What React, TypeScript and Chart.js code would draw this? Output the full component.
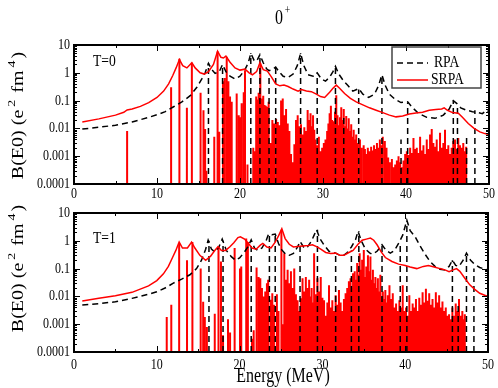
import React, { useEffect, useRef } from "react";
import { Chart, registerables } from "chart.js";
Chart.register(...registerables);

const FONT = "'Liberation Serif', 'DejaVu Serif', 'Times New Roman', serif";
const SX = 0.8; // horizontal squeeze of glyphs seen in the reference

// ---------- T=0 panel ----------
const rpaCurveE0 = [1, 3, 5, 7, 9, 10, 11, 12, 13, 14, 14.8, 15.4, 15.8, 16.2, 16.6, 17.0, 17.5, 17.9, 18.3, 18.8, 19.4, 20.0, 20.6, 21.0, 21.3, 21.7, 22.0, 22.4, 22.8, 23.2, 23.5, 23.9, 24.3, 24.7, 25.2, 25.8, 26.4, 26.9, 27.3, 27.7, 28.2, 28.8, 29.3, 29.8, 30.3, 30.8, 31.2, 31.5, 31.9, 32.5, 33.0, 33.6, 34.3, 34.8, 35.5, 36.2, 36.7, 37.1, 37.5, 38.0, 38.7, 39.4, 40.2, 40.8, 41.5, 42.5, 43.5, 44.5, 45.2, 45.7, 46.1, 46.6, 47.3, 48.0, 48.5, 49.2, 49.7, 50];
const rpaCurveB0 = [0.0095, 0.011, 0.013, 0.017, 0.025, 0.031, 0.04, 0.06, 0.09, 0.15, 0.3, 0.6, 1.0, 2.2, 1.3, 0.95, 1.1, 2.0, 1.1, 0.75, 0.6, 0.75, 1.3, 2.3, 5.0, 2.8, 2.6, 4.5, 2.3, 1.4, 1.2, 1.3, 1.6, 1.1, 0.75, 0.68, 0.9, 1.8, 5.0, 1.8, 0.85, 0.75, 1.0, 0.6, 0.5, 0.7, 1.1, 1.7, 0.9, 0.5, 0.35, 0.22, 0.27, 0.17, 0.13, 0.17, 0.35, 0.85, 0.35, 0.17, 0.11, 0.085, 0.09, 0.055, 0.035, 0.025, 0.023, 0.03, 0.05, 0.1, 0.08, 0.055, 0.045, 0.04, 0.038, 0.034, 0.045, 0.04];
const srpaCurveE0 = [1, 3, 5, 6.0, 6.4, 7.0, 8.0, 9.0, 10, 10.8, 11.4, 11.9, 12.3, 12.7, 13.1, 13.6, 14.2, 14.6, 15.2, 15.7, 16.2, 16.8, 17.3, 17.7, 18.0, 18.3, 18.8, 19.4, 20.0, 20.6, 21.1, 21.5, 22.0, 22.4, 22.8, 23.3, 23.8, 24.3, 24.8, 25.3, 25.8, 26.4, 27.0, 27.4, 28.0, 28.6, 29.2, 29.7, 30.2, 30.8, 31.2, 31.6, 32.0, 32.6, 33.3, 34.0, 34.8, 35.6, 36.4, 37.2, 38.0, 38.8, 39.6, 40.4, 41.2, 42.0, 42.8, 43.6, 44.3, 44.6, 45.0, 45.6, 46.3, 46.8, 47.5, 48.2, 48.9, 49.5, 50];
const srpaCurveB0 = [0.017, 0.022, 0.03, 0.038, 0.046, 0.05, 0.062, 0.085, 0.13, 0.22, 0.4, 0.8, 1.5, 3.0, 1.8, 1.5, 2.3, 1.5, 1.0, 0.9, 1.1, 2.0, 6.0, 3.6, 3.4, 4.0, 2.4, 1.5, 1.25, 1.35, 1.0, 0.85, 1.1, 2.3, 1.3, 1.15, 0.7, 0.4, 0.34, 0.36, 0.32, 0.26, 0.22, 0.25, 0.22, 0.21, 0.17, 0.14, 0.13, 0.2, 0.28, 0.36, 0.28, 0.18, 0.12, 0.09, 0.07, 0.055, 0.045, 0.037, 0.03, 0.026, 0.028, 0.033, 0.036, 0.038, 0.045, 0.048, 0.05, 0.055, 0.045, 0.037, 0.035, 0.025, 0.015, 0.01, 0.0075, 0.0065, 0.006];
const rpaStickE0 = [16.2, 17.9, 21.3, 22.4, 23.5, 24.3, 27.3, 29.3, 31.5, 32.5, 34.3, 37.1, 39.4, 40.2, 45.7, 46.2, 47.3, 48.3];
const rpaStickB0 = [2.2, 2.0, 5.0, 4.5, 0.9, 1.6, 5.0, 1.0, 1.6, 0.03, 0.25, 0.85, 0.004, 0.085, 0.1, 0.07, 0.006, 0.045];
const srpaStickE0 = [6.4, 11.7, 12.7, 13.6, 14.2, 15.25, 15.6, 15.8, 15.95, 16.9, 17.3, 17.5, 17.95, 18.15, 18.4, 18.6, 18.8, 19.0, 19.6, 19.85, 20.0, 20.2, 20.45, 20.6, 20.9, 21.6, 21.8, 21.95, 22.1, 22.25, 22.45, 22.6, 22.8, 22.95, 23.1, 23.25, 23.45, 23.7, 23.9, 24.1, 24.35, 24.55, 24.75, 24.95, 25.15, 25.35, 25.55, 25.75, 25.95, 26.15, 26.35, 26.55, 26.75, 26.95, 27.15, 27.35, 27.55, 27.75, 27.95, 28.15, 28.35, 28.5, 28.65, 28.8, 28.95, 29.1, 29.3, 29.5, 29.7, 29.9, 30.1, 30.3, 30.5, 30.65, 30.8, 30.95, 31.1, 31.25, 31.45, 31.6, 31.75, 31.9, 32.05, 32.2, 32.35, 32.5, 32.65, 32.8, 32.95, 33.1, 33.25, 33.4, 33.55, 33.7, 33.85, 34.0, 34.2, 34.45, 34.65, 34.9, 35.05, 35.2, 35.4, 35.6, 35.8, 36.0, 36.15, 36.35, 36.5, 36.7, 36.85, 37.0, 37.2, 37.45, 37.65, 37.85, 38.05, 38.3, 38.5, 38.7, 38.9, 39.1, 39.3, 39.5, 39.7, 39.9, 40.1, 40.3, 40.5, 40.7, 40.9, 41.1, 41.3, 41.5, 41.7, 41.9, 42.1, 42.3, 42.5, 42.7, 42.9, 43.1, 43.3, 43.5, 43.7, 43.9, 44.1, 44.3, 44.5, 44.7, 44.9, 45.1, 45.3, 45.5, 45.7, 45.9, 46.1, 46.3, 46.5, 46.7, 46.9, 47.1, 47.25];
const srpaStickB0 = [0.008, 0.3, 3.2, 0.055, 2.3, 0.19, 0.045, 0.0095, 0.0003, 0.005, 5.8, 0.0075, 0.5, 0.65, 3.8, 0.5, 0.14, 0.09, 0.18, 0.03, 0.025, 0.08, 0.2, 1.2, 0.0005, 0.002, 0.0015, 0.14, 0.11, 0.19, 2.2, 0.12, 0.15, 0.07, 0.065, 0.06, 0.09, 0.003, 0.02, 0.015, 0.022, 0.017, 0.013, 0.1, 0.12, 0.03, 0.05, 0.015, 0.008, 0.0012, 0.0006, 0.0027, 0.02, 0.03, 0.012, 0.014, 0.006, 0.011, 0.008, 0.046, 0.02, 0.035, 0.012, 0.03, 0.009, 0.004, 0.0025, 0.005, 0.0015, 0.002, 0.003, 0.004, 0.008, 0.015, 0.035, 0.065, 0.02, 0.018, 0.04, 0.155, 0.03, 0.013, 0.025, 0.058, 0.02, 0.05, 0.012, 0.028, 0.01, 0.023, 0.008, 0.014, 0.005, 0.009, 0.004, 0.006, 0.003, 0.004, 0.002, 0.0025, 0.0018, 0.0012, 0.002, 0.0015, 0.0022, 0.0016, 0.0025, 0.0018, 0.003, 0.002, 0.004, 0.0025, 0.005, 0.0035, 0.002, 0.0009, 0.0006, 0.0008, 0.0004, 0.0005, 0.0007, 0.001, 0.0006, 0.0004, 0.0007, 0.0012, 0.0015, 0.0011, 0.002, 0.0013, 0.0045, 0.0018, 0.002, 0.0013, 0.005, 0.0016, 0.0025, 0.0012, 0.004, 0.0018, 0.006, 0.0095, 0.003, 0.0022, 0.004, 0.0015, 0.007, 0.002, 0.003, 0.009, 0.0018, 0.0025, 0.0012, 0.002, 0.0035, 0.004, 0.0018, 0.0045, 0.0025, 0.002, 0.003, 0.0015, 0.0022];

// ---------- T=1 panel ----------
const rpaCurveE1 = [1, 3, 5, 7, 9, 10, 11, 12, 13, 14, 14.8, 15.4, 15.9, 16.2, 16.6, 17.0, 17.5, 17.9, 18.4, 19.0, 19.5, 20.0, 20.6, 21.0, 21.4, 21.8, 22.2, 22.7, 23.2, 23.5, 23.9, 24.3, 24.7, 25.1, 25.6, 26.0, 26.5, 27.0, 27.3, 27.8, 28.2, 28.7, 29.0, 29.3, 29.7, 30.2, 30.8, 31.3, 31.6, 32.1, 32.5, 33.0, 33.5, 34.0, 34.3, 34.7, 35.2, 35.7, 36.0, 36.6, 37.2, 37.7, 38.2, 38.7, 39.2, 39.7, 40.2, 40.6, 41.2, 41.8, 42.4, 43.0, 43.6, 44.2, 44.8, 45.3, 45.7, 46.1, 46.5, 47.0, 47.4, 47.9, 48.4, 49.0, 49.6, 50];
const rpaCurveB1 = [0.0049, 0.0055, 0.0064, 0.0085, 0.012, 0.0146, 0.02, 0.03, 0.042, 0.06, 0.1, 0.2, 0.5, 1.05, 0.5, 0.4, 0.6, 1.15, 0.45, 0.27, 0.2, 0.24, 0.4, 0.6, 1.08, 0.55, 0.45, 0.55, 1.0, 1.75, 1.65, 1.75, 0.8, 0.47, 0.32, 0.3, 0.35, 0.6, 0.95, 0.55, 0.6, 1.0, 1.6, 2.5, 1.2, 0.7, 0.42, 0.38, 0.36, 0.3, 0.29, 0.38, 0.6, 1.1, 2.2, 1.0, 0.5, 0.37, 0.33, 0.42, 0.72, 0.45, 0.36, 0.45, 0.8, 1.6, 5.5, 2.3, 1.4, 0.65, 0.33, 0.18, 0.12, 0.095, 0.09, 0.12, 0.2, 0.13, 0.12, 0.2, 0.36, 0.2, 0.14, 0.11, 0.095, 0.09];
const srpaCurveE1 = [1, 3, 5, 7, 9, 10, 10.8, 11.4, 11.9, 12.3, 12.7, 13.1, 13.7, 14.2, 14.6, 15.2, 15.9, 16.5, 17.0, 17.4, 17.8, 18.3, 18.8, 19.3, 19.8, 20.1, 20.6, 21.0, 21.5, 22.0, 22.5, 22.8, 23.3, 23.8, 24.3, 24.7, 25.1, 25.5, 26.0, 26.5, 27.0, 27.6, 28.3, 28.8, 29.3, 29.8, 30.4, 31.0, 31.6, 32.1, 32.6, 33.2, 33.7, 34.3, 34.8, 35.3, 35.8, 36.2, 36.6, 37.1, 37.6, 38.4, 39.2, 40.0, 40.6, 41.4, 42.2, 42.8, 43.5, 44.2, 44.8, 45.3, 45.8, 46.2, 46.6, 47.2, 47.8, 48.4, 49.0, 49.6, 50];
const srpaCurveB1 = [0.0068, 0.0085, 0.0105, 0.014, 0.024, 0.037, 0.065, 0.12, 0.25, 0.45, 0.9, 0.55, 0.55, 0.9, 0.55, 0.3, 0.2, 0.28, 0.45, 0.62, 0.45, 0.45, 0.6, 0.85, 1.3, 1.4, 1.15, 0.85, 0.55, 0.5, 0.7, 0.8, 0.6, 0.55, 0.9, 1.5, 2.7, 1.2, 0.75, 0.6, 0.62, 0.65, 0.68, 0.72, 0.62, 0.5, 0.38, 0.35, 0.36, 0.3, 0.3, 0.38, 0.45, 0.75, 1.05, 1.15, 1.25, 1.05, 0.72, 0.4, 0.25, 0.18, 0.145, 0.13, 0.115, 0.1, 0.12, 0.128, 0.115, 0.1, 0.09, 0.078, 0.09, 0.1, 0.08, 0.045, 0.026, 0.018, 0.013, 0.011, 0.01];
const rpaStickE1 = [16.3, 18.0, 21.4, 23.6, 24.3, 27.3, 29.4, 31.6, 33.5, 34.4, 37.2, 39.4, 40.2, 45.7, 46.4, 47.4, 48.3];
const rpaStickB1 = [1.0, 1.0, 1.0, 1.8, 1.8, 0.85, 2.5, 0.36, 0.45, 2.2, 0.7, 0.75, 5.0, 0.2, 0.006, 0.36, 0.1];
const srpaStickE1 = [11.2, 11.75, 12.7, 13.65, 14.3, 15.3, 15.6, 15.8, 16.05, 17.0, 17.45, 17.75, 18.0, 18.6, 18.85, 19.4, 20.05, 20.2, 20.8, 21.0, 21.5, 21.7, 22.05, 22.3, 22.5, 22.7, 22.9, 23.1, 23.3, 23.45, 23.75, 23.95, 24.15, 24.5, 24.7, 25.05, 25.25, 25.4, 25.6, 25.8, 26.0, 26.2, 26.4, 26.6, 26.8, 27.0, 27.2, 27.4, 27.6, 27.8, 28.0, 28.2, 28.4, 28.55, 28.7, 28.85, 29.0, 29.2, 29.4, 29.6, 29.8, 30.0, 30.2, 30.4, 30.6, 30.8, 31.0, 31.2, 31.4, 31.6, 31.8, 32.0, 32.2, 32.4, 32.6, 32.8, 33.0, 33.2, 33.4, 33.55, 33.7, 33.9, 34.05, 34.2, 34.35, 34.5, 34.65, 34.8, 34.9, 35.0, 35.15, 35.3, 35.5, 35.65, 35.8, 35.95, 36.1, 36.25, 36.4, 36.55, 36.7, 36.85, 37.0, 37.15, 37.3, 37.45, 37.6, 37.75, 37.9, 38.1, 38.3, 38.5, 38.7, 38.9, 39.1, 39.3, 39.5, 39.7, 39.9, 40.1, 40.3, 40.5, 40.7, 40.9, 41.1, 41.3, 41.5, 41.7, 41.9, 42.1, 42.3, 42.5, 42.7, 42.9, 43.1, 43.3, 43.5, 43.7, 43.9, 44.1, 44.3, 44.5, 44.7, 44.9, 45.1, 45.3, 45.5, 45.7, 45.9, 46.1, 46.3, 46.5, 46.7, 46.9, 47.05, 47.2];
const srpaStickB1 = [0.0018, 0.005, 0.8, 0.2, 0.9, 0.1, 0.0064, 0.0018, 0.0008, 0.0024, 0.62, 0.18, 0.0004, 0.0015, 0.0005, 0.55, 0.1, 0.12, 1.2, 0.9, 0.0003, 0.0006, 0.11, 0.05, 0.045, 0.02, 0.01, 0.015, 0.03, 0.04, 0.0075, 0.013, 0.005, 0.012, 0.003, 2.5, 0.001, 0.36, 0.04, 0.09, 0.03, 0.08, 0.02, 0.1, 0.012, 0.0073, 0.003, 0.0085, 0.045, 0.015, 0.05, 0.02, 0.04, 0.01, 0.02, 0.006, 0.36, 0.012, 0.045, 0.015, 0.05, 0.009, 0.0073, 0.002, 0.006, 0.025, 0.004, 0.0073, 0.003, 0.011, 0.005, 0.017, 0.006, 0.003, 0.008, 0.013, 0.02, 0.035, 0.045, 0.02, 0.068, 0.08, 0.04, 0.16, 0.06, 0.36, 0.09, 0.21, 0.07, 0.47, 0.05, 0.12, 0.3, 0.08, 0.27, 0.04, 0.09, 0.03, 0.05, 0.02, 0.045, 0.015, 0.06, 0.01, 0.015, 0.008, 0.017, 0.006, 0.011, 0.025, 0.008, 0.013, 0.004, 0.0055, 0.003, 0.0073, 0.004, 0.025, 0.003, 0.004, 0.002, 0.011, 0.003, 0.0055, 0.004, 0.008, 0.003, 0.009, 0.005, 0.014, 0.006, 0.019, 0.007, 0.013, 0.005, 0.008, 0.004, 0.014, 0.006, 0.011, 0.004, 0.0065, 0.003, 0.004, 0.002, 0.0023, 0.0015, 0.004, 0.002, 0.0055, 0.003, 0.008, 0.002, 0.003, 0.0015, 0.0023];

// ---------- axes ----------
const xTicks = [0, 10, 20, 30, 40, 50];
const yTicks = [0.0001, 0.001, 0.01, 0.1, 1, 10];
const yTickLabels = ["0.0001", "0.001", "0.01", "0.1", "1", "10"];
const seriesNames = ["RPA", "SRPA"];
const yTitleParts: [string, boolean][] = [["B(E0) (e", false], ["2", true], [" fm", false], ["4", true], [")", false]];
const xTitle = "Energy (MeV)";
const Y_MIN = 0.0001;

const toPts = (E: number[], B: number[]) => E.map((e, i) => ({ x: e, y: B[i] }));
const toSticks = (E: number[], B: number[]) =>
  E.flatMap((e, i) => [{ x: e, y: Y_MIN }, { x: e, y: B[i] }, { x: e, y: null as any }]);

function text(ctx: CanvasRenderingContext2D, s: string, x: number, y: number, size: number, align: CanvasTextAlign = "center") {
  ctx.save();
  ctx.translate(x, y);
  ctx.scale(SX, 1);
  ctx.font = `${size}px ${FONT}`;
  ctx.fillStyle = "#000";
  ctx.textAlign = align;
  ctx.textBaseline = "middle";
  ctx.fillText(s, 0, 0);
  ctx.restore();
}

function drawYTitle(ctx: CanvasRenderingContext2D, cx: number, cy: number) {
  const big = 20, small = 14;
  ctx.save();
  ctx.translate(cx, cy);
  ctx.scale(SX, 1);
  ctx.rotate(-Math.PI / 2);
  ctx.fillStyle = "#000";
  ctx.textBaseline = "alphabetic";
  ctx.textAlign = "left";
  const widths = yTitleParts.map(([s, sup]) => {
    ctx.font = `${sup ? small : big}px ${FONT}`;
    return ctx.measureText(s).width + (sup ? 4 : 1);
  });
  const total = widths.reduce((a, b) => a + b, 0);
  let pos = -total / 2;
  yTitleParts.forEach(([s, sup], i) => {
    ctx.font = `${sup ? small : big}px ${FONT}`;
    ctx.fillText(s, pos + (sup ? 2 : 0), sup ? -2 : 7);
    pos += widths[i];
  });
  ctx.restore();
}

type Panel = {
  rpaCurve: any[]; srpaCurve: any[]; rpaSticks: any[]; srpaSticks: any[];
  label: string; labelY: number; yTitleY: number;
  padding: { left: number; right: number; top: number; bottom: number };
  xLabelOffset: number; top: boolean;
};

function buildConfig(p: Panel): any {
  const decor = {
    id: "decor",
    afterDatasetsDraw(chart: any) {
      const { ctx, chartArea } = chart;
      const { left, right, top, bottom } = chartArea;
      const x = chart.scales.x, y = chart.scales.y;
      ctx.save();
      ctx.strokeStyle = "#000";
      ctx.lineWidth = 1;
      ctx.setLineDash([]);
      ctx.beginPath();
      for (let e = 0; e <= 50; e += 5) {
        const px = Math.round(x.getPixelForValue(e)) + 0.5;
        const L = e % 10 === 0 ? 6 : 3;
        ctx.moveTo(px, bottom); ctx.lineTo(px, bottom - L);
        ctx.moveTo(px, top); ctx.lineTo(px, top + L);
      }
      for (let d = -4; d <= 1; d++) {
        for (let k = 1; k <= 9; k++) {
          const v = k * Math.pow(10, d);
          if (v > 10.0001) break;
          const py = Math.round(y.getPixelForValue(v)) + 0.5;
          const L = k === 1 ? 6 : 3;
          ctx.moveTo(left, py); ctx.lineTo(left + L, py);
          ctx.moveTo(right, py); ctx.lineTo(right - L, py);
        }
      }
      ctx.stroke();
      ctx.lineWidth = 2;
      ctx.strokeRect(left, top, right - left, bottom - top);
      ctx.restore();
    },
    afterDraw(chart: any) {
      const { ctx, chartArea } = chart;
      const { left, right, top, bottom } = chartArea;
      const x = chart.scales.x, y = chart.scales.y;
      yTicks.forEach((v, i) => text(ctx, yTickLabels[i], left - 4, y.getPixelForValue(v), 15, "right"));
      xTicks.forEach((v) => text(ctx, String(v), x.getPixelForValue(v), bottom + p.xLabelOffset, 15, "center"));
      text(ctx, p.label, left + 19, p.labelY, 17, "left");
      drawYTitle(ctx, 17, p.yTitleY);
      if (p.top) {
        text(ctx, "0", 279, 19, 20, "center");
        text(ctx, "+", 287.5, 11, 12, "center");
        // legend
        ctx.save();
        ctx.strokeStyle = "#444";
        ctx.lineWidth = 1.5;
        ctx.strokeRect(392, 47, 89, 41);
        ctx.lineWidth = 1.5;
        ctx.strokeStyle = "#000";
        ctx.setLineDash([6, 4]);
        ctx.beginPath(); ctx.moveTo(397, 63); ctx.lineTo(428, 63); ctx.stroke();
        ctx.setLineDash([]);
        ctx.strokeStyle = "#ff0000";
        ctx.beginPath(); ctx.moveTo(397, 80); ctx.lineTo(428, 80); ctx.stroke();
        ctx.restore();
        text(ctx, seriesNames[0], 434, 63, 17, "left");
        text(ctx, seriesNames[1], 431, 80, 17, "left");
      } else {
        text(ctx, xTitle, 283, 177, 20, "center");
      }
    },
  };
  return {
    type: "line",
    data: {
      datasets: [
        { label: "SRPA", data: p.srpaCurve, borderColor: "#ff0000", borderWidth: 1.5, pointRadius: 0, tension: 0 },
        { label: "RPA", data: p.rpaCurve, borderColor: "#000", borderWidth: 1.5, borderDash: [6, 4], pointRadius: 0, tension: 0 },
        { label: "RPA sticks", data: p.rpaSticks, borderColor: "#000", borderWidth: 1.5, borderDash: [6, 4], pointRadius: 0, spanGaps: false },
        { label: "SRPA sticks", data: p.srpaSticks, borderColor: "#ff0000", borderWidth: 2, pointRadius: 0, spanGaps: false },
      ],
    },
    options: {
      animation: false,
      responsive: false,
      devicePixelRatio: 1,
      layout: { padding: p.padding },
      plugins: { legend: { display: false }, tooltip: { enabled: false }, title: { display: false } },
      scales: {
        x: { type: "linear", min: 0, max: 50, display: false },
        y: { type: "logarithmic", min: 0.0001, max: 10, display: false },
      },
    },
    plugins: [decor],
  };
}

export default function App() {
  const topRef = useRef<HTMLCanvasElement>(null);
  const botRef = useRef<HTMLCanvasElement>(null);
  useEffect(() => {
    const c1 = new Chart(topRef.current as HTMLCanvasElement, buildConfig({
      rpaCurve: toPts(rpaCurveE0, rpaCurveB0),
      srpaCurve: toPts(srpaCurveE0, srpaCurveB0),
      rpaSticks: toSticks(rpaStickE0, rpaStickB0),
      srpaSticks: toSticks(srpaStickE0, srpaStickB0),
      label: "T=0", labelY: 62, yTitleY: 115,
      padding: { left: 74, right: 9, top: 45, bottom: 16 },
      xLabelOffset: 10, top: true,
    }));
    const c2 = new Chart(botRef.current as HTMLCanvasElement, buildConfig({
      rpaCurve: toPts(rpaCurveE1, rpaCurveB1),
      srpaCurve: toPts(srpaCurveE1, srpaCurveB1),
      rpaSticks: toSticks(rpaStickE1, rpaStickB1),
      srpaSticks: toSticks(srpaStickE1, srpaStickB1),
      label: "T=1", labelY: 39, yTitleY: 68,
      padding: { left: 74, right: 10, top: 13, bottom: 36 },
      xLabelOffset: 13, top: false,
    }));
    return () => { c1.destroy(); c2.destroy(); };
  }, []);
  return (
    <div style={{ position: "absolute", left: 0, top: 0, width: 498, height: 388, background: "#fff" }}>
      <canvas ref={topRef} width={498} height={200} style={{ position: "absolute", left: 0, top: 0 }} />
      <canvas ref={botRef} width={498} height={188} style={{ position: "absolute", left: 0, top: 200 }} />
    </div>
  );
}
